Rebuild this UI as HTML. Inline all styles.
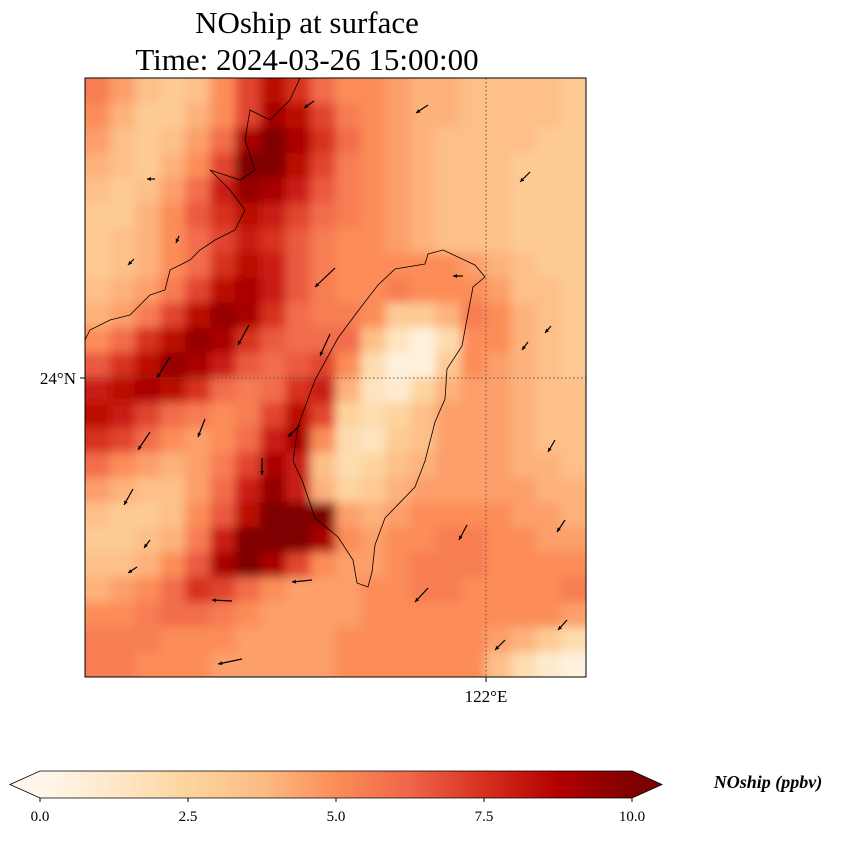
<!DOCTYPE html>
<html><head><meta charset="utf-8"><style>
body{margin:0;background:#fff;}
svg text{font-family:"Liberation Serif",serif;}
</style></head><body>
<svg width="842" height="836" viewBox="0 0 842 836">
<defs>
<linearGradient id="cg" x1="0" x2="1" y1="0" y2="0">
<stop offset="0" stop-color="#fff7ec"/><stop offset="0.125" stop-color="#fee8c8"/><stop offset="0.25" stop-color="#fdd49e"/><stop offset="0.375" stop-color="#fdbb84"/><stop offset="0.5" stop-color="#fc8d59"/><stop offset="0.625" stop-color="#ef6548"/><stop offset="0.75" stop-color="#d7301f"/><stop offset="0.875" stop-color="#b30000"/><stop offset="1" stop-color="#7f0000"/>
</linearGradient>
<clipPath id="mapclip"><rect x="85" y="78" width="501" height="599"/></clipPath>
<filter id="soft" filterUnits="userSpaceOnUse" x="40" y="30" width="600" height="700"><feGaussianBlur stdDeviation="5"/></filter>
</defs>
<text x="307" y="33" font-size="31" text-anchor="middle">NOship at surface</text>
<text x="307" y="70" font-size="31" text-anchor="middle">Time: 2024-03-26 15:00:00</text>
<g clip-path="url(#mapclip)"><g id="cells" filter="url(#soft)"></g></g>
<g clip-path="url(#mapclip)">
<path fill="none" stroke="#000" stroke-width="0.8" d="M428,254 L443,250 L475,265 L485,277 L473,287 L467,319 L462,346 L447,369 L445,399 L435,422 L425,461 L415,487 L385,518 L375,545 L372,572 L368,587 L357,583 L353,560 L338,537 L315,518 L302,480 L293,461 L298,426 L315,380 L338,338 L358,311 L378,285 L395,269 L425,264 Z"/>
<path fill="none" stroke="#000" stroke-width="0.8" d="M300,78 L290,100 L270,120 L250,110 L245,140 L255,170 L240,180 L210,170 L230,190 L245,210 L235,230 L215,240 L200,250 L190,260 L170,270 L165,290 L150,295 L140,305 L130,315 L110,320 L90,330 L85,340"/>
</g>
<g id="arrows"></g>
<line x1="486" y1="78" x2="486" y2="677" stroke="#555" stroke-width="1" stroke-dasharray="1.5,2.5"/>
<line x1="85" y1="378" x2="586" y2="378" stroke="#555" stroke-width="1" stroke-dasharray="1.5,2.5"/>
<rect x="85" y="78" width="501" height="599" fill="none" stroke="#000" stroke-width="1"/>
<line x1="80" y1="378" x2="85" y2="378" stroke="#000"/>
<text x="76" y="384" font-size="17" text-anchor="end">24°N</text>
<line x1="486" y1="677" x2="486" y2="682" stroke="#000"/>
<text x="486" y="702" font-size="17" text-anchor="middle">122°E</text>
<g>
<rect x="40" y="771" width="592" height="27" fill="url(#cg)"/>
<polygon points="40,771 10,784.5 40,798" fill="#fff7ec"/>
<polygon points="632,771 662,784.5 632,798" fill="#7f0000"/>
<polygon points="10,784.5 40,771 632,771 662,784.5 632,798 40,798" fill="none" stroke="#000" stroke-width="0.8"/>
</g>
<g id="cbticks"></g>
<text x="768" y="788" font-size="18" font-weight="bold" font-style="italic" text-anchor="middle">NOship (ppbv)</text>
</svg>
<script>
const gridRows = [
[5.5,4.5,3.5,3,3.5,5,7,8.5,7.5,6,5,5,4.5,4,4,3.5,3.5,3.5,3.5,3],
[5,4,3,3,4,5,7,9,8.5,7,5.5,5,4.5,4,4,3.5,3.5,3.5,3.5,3],
[4.5,3.5,3,3.5,4.5,6,9,10,9,7.5,6,5,4.5,4,3.5,3.5,3.5,3.5,3,3],
[4,3.5,3,4,5,7,10,10,8.5,7,5.5,5,4.5,4,3.5,3.5,3.5,3,3,3],
[3.5,3,3.5,4.5,6,8,9.5,9,8,6.5,5.5,5,4.5,4,3.5,3.5,3.5,3,3,3],
[3,3,4,5,6.5,7.5,8.5,8,7,6,5.5,5,4.5,4,3.5,3.5,3.5,3,3,3],
[3,3.5,4,5,6,7,8,7.5,6.5,5.5,5,5,4.5,4,3.5,3.5,3.5,3,3,3],
[3,3.5,4,5,6,7.5,8.5,8,6.5,5.5,5,5,5,5,5,4.5,4,3.5,3,3],
[3.5,4,4.5,5.5,7,8.5,9,8,6.5,5.5,5,5,5.5,5,5,5,4.5,3.5,3.5,3],
[4,4.5,5.5,7,8.5,9.5,9,7.5,6,5.5,5.5,5,3,3,4,5.5,5,4,3.5,3],
[5,6,7.5,8.5,9.5,9,7.5,6.5,6,6,6,3.5,1.5,0.5,2,5,5,4,3.5,3],
[6.5,7.5,8.5,9.5,9,8,6.5,6,6.5,7,5,2,0.5,0.5,3,5,4.5,4,3.5,3],
[8,8.5,9,8.5,7.5,6,5.5,6,7.5,8,4,1.5,1,2.5,4,4.5,4.5,4,3.5,3.5],
[8.5,8,7,6,5.5,5,5.5,7,8.5,7,2.5,2,2.5,3.5,4.5,4.5,4.5,4,3.5,3.5],
[7.5,7,6,5,4.5,5,6,8,9,5,2,1.5,3,3.5,4.5,4.5,4.5,4,3.5,3.5],
[6,5,4.5,4,4.5,5.5,7,9,8,3.5,2,2.5,3.5,4,4.5,4.5,4.5,4,4,3.5],
[4.5,4,3.5,3.5,4.5,6,8,9.5,8,4,2.5,3,4,4.5,4.5,4.5,4.5,4.5,4,4],
[3.5,3,3,3.5,5,6.5,8.5,10,10,10,4.5,4,4.5,5,5,5,5,4.5,4.5,4],
[3,3,3.5,4,5.5,8,10,10,10,9,5,4.5,5,5,5.5,5.5,5,5,4.5,4.5],
[3.5,3.5,4,5,6.5,9,10,9,7,5,4.5,4.5,5,5.5,5.5,5.5,5,5,5,5],
[4,4.5,5,6,7.5,7,6,5,4.5,4.5,4.5,5,5,5.5,5.5,5,5,5,5,5.5],
[5,5,5.5,6,6,5.5,5,4.5,4.5,4.5,4.5,5,5,5,5,5,5,5,5,4.5],
[5.5,5.5,5.5,5,5,5,4.5,4.5,4.5,4.5,5,5,5,5,5,5,4.5,4,3,2],
[5.5,5.5,5,5,5,4.5,4.5,4.5,4.5,4.5,5,5,5,5,5,5,3.5,2,1,0.5]
];
const windTail = [[428,105],[314,101],[530,172],[155,179],[179,236],[134,259],[335,268],[463,276],[249,325],[330,334],[551,326],[528,342],[170,357],[205,419],[150,432],[300,425],[262,458],[555,440],[133,489],[150,540],[137,567],[467,525],[565,520],[312,580],[232,601],[428,588],[567,620],[505,640],[242,659]];
const windHead = [[416,113],[304,108],[520,182],[147,179],[176,243],[128,265],[315,287],[453,276],[238,345],[320,356],[545,333],[522,350],[157,378],[198,437],[138,450],[288,437],[262,475],[548,452],[124,505],[144,548],[128,573],[459,540],[557,532],[292,582],[212,600],[415,602],[558,630],[495,650],[218,664]];
const cbTicks = [0.0,2.5,5.0,7.5,10.0];
const cbLabels = ["0.0","2.5","5.0","7.5","10.0"];

const NS="http://www.w3.org/2000/svg";
const stops=["#fff7ec","#fee8c8","#fdd49e","#fdbb84","#fc8d59","#ef6548","#d7301f","#b30000","#7f0000"];
function hex(c){return [1,3,5].map(i=>parseInt(c.substr(i,2),16));}
function color(v){let t=Math.max(0,Math.min(1,v/10))*8;let i=Math.min(7,Math.floor(t));let f=t-i;let a=hex(stops[i]),b=hex(stops[i+1]);return "rgb("+a.map((x,k)=>Math.round(x+(b[k]-x)*f)).join(",")+")";}
const X0=85,Y0=78,W=501,H=599,PAD=25;
const nR=gridRows.length,nC=gridRows[0].length;
const cw=W/nC,ch=H/nR;
const cells=document.getElementById('cells');
gridRows.forEach((row,r)=>row.forEach((v,c)=>{
 let x=X0+c*cw,y=Y0+r*ch,w=cw+0.6,h=ch+0.6;
 if(c===0){x-=PAD;w+=PAD;}
 if(c===nC-1){w+=PAD;}
 if(r===0){y-=PAD;h+=PAD;}
 if(r===nR-1){h+=PAD;}
 const el=document.createElementNS(NS,'rect');
 el.setAttribute('x',x);el.setAttribute('y',y);
 el.setAttribute('width',w);el.setAttribute('height',h);
 el.setAttribute('fill',color(v));
 
 
 cells.appendChild(el);
}));
const ag=document.getElementById('arrows');
windTail.forEach((t,i)=>{
 const h=windHead[i];const dx=h[0]-t[0],dy=h[1]-t[1];const L=Math.hypot(dx,dy)||1;const ux=dx/L,uy=dy/L;
 const ln=document.createElementNS(NS,'line');
 ln.setAttribute('x1',t[0]);ln.setAttribute('y1',t[1]);ln.setAttribute('x2',h[0]);ln.setAttribute('y2',h[1]);
 ln.setAttribute('stroke','#000');ln.setAttribute('stroke-width','1.2');
 
 
 ag.appendChild(ln);
 const p=document.createElementNS(NS,'polygon');
 const s=4;const bx=h[0]-ux*s,by=h[1]-uy*s;
 p.setAttribute('points',h[0]+','+h[1]+' '+(bx-uy*2)+','+(by+ux*2)+' '+(bx+uy*2)+','+(by-ux*2));
 p.setAttribute('fill','#000');
 
 
 ag.appendChild(p);
});
const tg=document.getElementById('cbticks');
cbTicks.forEach((v,i)=>{
 const x=40+v/10*592;
 const l=document.createElementNS(NS,'line');
 l.setAttribute('x1',x);l.setAttribute('x2',x);l.setAttribute('y1',798);l.setAttribute('y2',802);l.setAttribute('stroke','#000');
 
 
 tg.appendChild(l);
 const tx=document.createElementNS(NS,'text');
 tx.setAttribute('x',x);tx.setAttribute('y',821);tx.setAttribute('font-size','15');tx.setAttribute('text-anchor','middle');
 tx.textContent=cbLabels[i];
 
 
 tg.appendChild(tx);
});
</script>
</body></html>
